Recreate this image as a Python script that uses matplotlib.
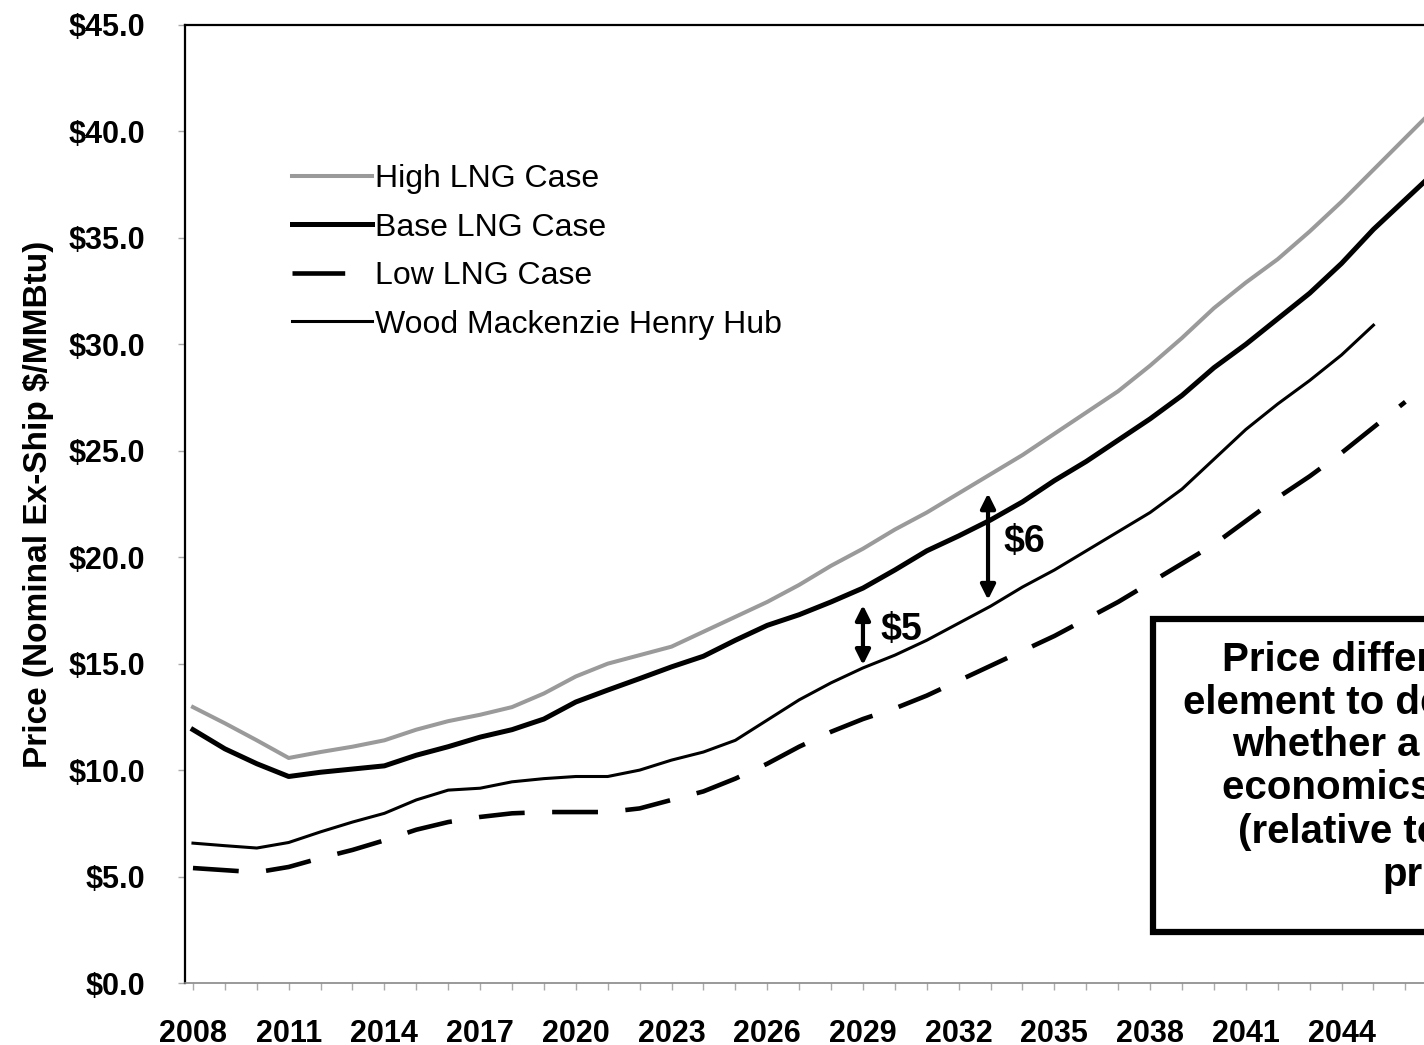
import numpy as np
import matplotlib.pyplot as plt
from matplotlib.patches import Rectangle

plt.rcParams['font.family'] = ['Liberation Sans', 'DejaVu Sans']

# yearly prices, $/MMBtu
years = list(range(2008, 2048))
high_lng = [12.96, 12.2, 11.4, 10.57, 10.85, 11.1, 11.4, 11.9, 12.3, 12.6,
            12.96, 13.6, 14.4, 15.0, 15.4, 15.8, 16.5, 17.2, 17.9, 18.7,
            19.6, 20.4, 21.3, 22.1, 23.0, 23.9, 24.8, 25.8, 26.8, 27.8,
            29.0, 30.3, 31.7, 32.9, 34.0, 35.3, 36.7, 38.2, 39.7, 41.2]
base_lng = [11.9, 11.0, 10.3, 9.7, 9.9, 10.05, 10.2, 10.7, 11.1, 11.55,
            11.9, 12.4, 13.2, 13.76, 14.3, 14.85, 15.35, 16.1, 16.8, 17.3,
            17.9, 18.55, 19.4, 20.3, 21.0, 21.75, 22.6, 23.6, 24.5, 25.5,
            26.5, 27.6, 28.9, 30.0, 31.2, 32.4, 33.8, 35.4, 36.8, 38.2]
low_lng = [5.4, 5.3, 5.2, 5.45, 5.87, 6.25, 6.7, 7.2, 7.56, 7.8,
           7.97, 8.03, 8.03, 8.03, 8.2, 8.6, 9.0, 9.6, 10.3, 11.1,
           11.8, 12.4, 12.9, 13.5, 14.2, 14.9, 15.6, 16.3, 17.1, 17.9,
           18.8, 19.7, 20.6, 21.7, 22.8, 23.8, 24.9, 26.1, 27.3]
henry_hub = [6.57, 6.45, 6.34, 6.6, 7.1, 7.56, 7.97, 8.6, 9.06, 9.15,
             9.45, 9.6, 9.7, 9.7, 10.0, 10.47, 10.85, 11.4, 12.35, 13.3,
             14.1, 14.8, 15.4, 16.1, 16.9, 17.7, 18.6, 19.4, 20.3, 21.2,
             22.1, 23.2, 24.6, 26.0, 27.2, 28.3, 29.5, 30.9]

labels = ['High LNG Case', 'Base LNG Case', 'Low LNG Case', 'Wood Mackenzie Henry Hub']
tick_years = years[:-1:3]
box_lines = ['Price differential is a key', 'element to determining', 'whether a project has',
             'economics that are robust', '(relative to Henry Hub', 'prices)']

fig = plt.figure(figsize=(14.24, 10.45), dpi=100)
ax = fig.add_axes([185/1424, 62/1045, 1265/1424, 958/1045])

ax.plot(years[:len(high_lng)], high_lng, color='#9a9a9a', lw=2.9, label=labels[0])
ax.plot(years[:len(base_lng)], base_lng, color='black', lw=3.6, label=labels[1])
ax.plot(years[:len(low_lng)], low_lng, color='black', lw=3.3, ls=(0, (10, 6)), label=labels[2])
ax.plot(years[:len(henry_hub)], henry_hub, color='black', lw=2.2, label=labels[3])

ax.set_xlim(2007.75, 2047.4)
ax.set_ylim(0, 45)

ax.set_yticks(np.arange(0, 46, 5))
ax.set_yticklabels(['$%.1f' % v for v in np.arange(0, 46, 5)])
ax.set_xticks(tick_years)
ax.set_xticks(years, minor=True)
ax.tick_params(axis='both', which='both', labelsize=22, color='#aaaaaa', length=5, width=1)
ax.tick_params(axis='y', pad=24)
ax.tick_params(axis='x', pad=21)
for t in ax.get_xticklabels() + ax.get_yticklabels():
    t.set_fontweight('bold')

for s in ['left', 'top']:
    ax.spines[s].set_linewidth(1.6)
ax.spines['bottom'].set_color('#888888')
ax.spines['bottom'].set_linewidth(1.2)

ax.set_ylabel('Price (Nominal Ex-Ship $/MMBtu)', fontsize=24, fontweight='bold', labelpad=10)

leg = ax.legend(loc='upper left', bbox_to_anchor=(292/1424, 1 - 164/1045),
                bbox_transform=fig.transFigure, frameon=False, fontsize=23,
                handlelength=2.5, handletextpad=0.1, labelspacing=0.58,
                borderpad=0, borderaxespad=0)
leg.get_lines()[2].set_linestyle((0, (11.5, 8)))

# spread arrows
arrow = dict(arrowstyle='<|-|>', lw=3, color='black', mutation_scale=22, shrinkA=0, shrinkB=0)
ax.annotate('', xy=(2029, 14.94), xytext=(2029, 17.75), arrowprops=arrow)
ax.text(2029.55, 16.6, '$5', fontsize=27, fontweight='bold', va='center', ha='left')
ax.annotate('', xy=(2032.92, 18.0), xytext=(2032.92, 23.0), arrowprops=arrow)
ax.text(2033.4, 20.7, '$6', fontsize=27, fontweight='bold', va='center', ha='left')

# callout box
ax.add_patch(Rectangle((2038.1, 2.4), 15, 14.7, facecolor='white', edgecolor='black',
                       lw=4.5, clip_on=False, zorder=5))
line_x = [1222, 1183, 1232, 1222, 1238, 1382]
line_y = [660, 703, 745, 788, 832, 875]
for txt, px, py in zip(box_lines, line_x, line_y):
    ax.text((px - 193) / 31.9 + 2008, (983 - py) / 21.29, txt, fontsize=29,
            fontweight='bold', ha='left', va='center', zorder=6, clip_on=False)

fig.savefig('out.png', dpi=100)
